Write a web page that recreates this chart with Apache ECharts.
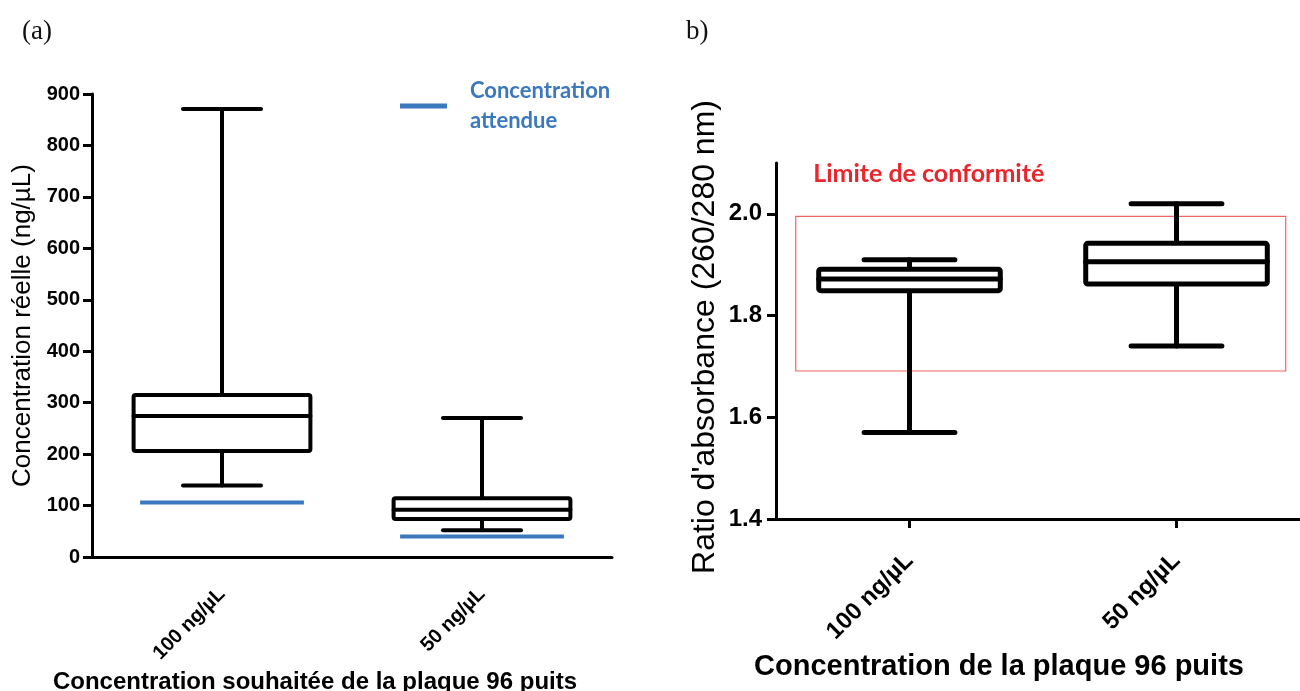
<!DOCTYPE html>
<html><head><meta charset="utf-8">
<script src="https://cdn.jsdelivr.net/npm/echarts@6/dist/echarts.min.js"></script>
<style>html,body{margin:0;padding:0;background:#fff}#c{width:1300px;height:691px}</style>
</head><body><div id="c"></div>
<script>
// ---------- data ----------
const categories = ['100 ng/µL', '50 ng/µL'];
// panel (a) : Concentration réelle (ng/µL)
const concMin = [139, 52];
const concQ1 = [206, 74];
const concMedian = [274, 92];
const concQ3 = [315, 114];
const concMax = [871, 270];
const concExpected = [106, 40];
// panel (b) : Ratio d'absorbance (260/280 nm)
const ratioMin = [1.57, 1.74];
const ratioQ1 = [1.849, 1.862];
const ratioMedian = [1.872, 1.906];
const ratioQ3 = [1.891, 1.942];
const ratioMax = [1.91, 2.02];
const ratioTicks = [1.4, 1.6, 1.8, 2.0];
const conformityLimits = [1.691, 1.995];

// ---------- style ----------
const BLUE = '#3b78be';
const RED = '#e8262d';
const FONT = 'Liberation Sans';

function boxRenderer(boxRatio, capRatio, lw) {
  return function (params, api) {
    const i = api.value(0);
    const pMin = api.coord([i, api.value(1)]);
    const pQ1 = api.coord([i, api.value(2)]);
    const pMed = api.coord([i, api.value(3)]);
    const pQ3 = api.coord([i, api.value(4)]);
    const pMax = api.coord([i, api.value(5)]);
    const band = api.size([1, 0])[0];
    const x = pMed[0];
    const hw = band * boxRatio / 2;
    const cw = band * capRatio / 2;
    const st = () => ({ stroke: '#000', lineWidth: lw, fill: null, lineJoin: 'round', lineCap: 'round' });
    return {
      type: 'group', children: [
        { type: 'line', shape: { x1: x, y1: pQ3[1], x2: x, y2: pMax[1] }, style: st() },
        { type: 'line', shape: { x1: x, y1: pQ1[1], x2: x, y2: pMin[1] }, style: st() },
        { type: 'line', shape: { x1: x - cw, y1: pMax[1], x2: x + cw, y2: pMax[1] }, style: st() },
        { type: 'line', shape: { x1: x - cw, y1: pMin[1], x2: x + cw, y2: pMin[1] }, style: st() },
        { type: 'rect', shape: { x: x - hw, y: pQ3[1], width: 2 * hw, height: pQ1[1] - pQ3[1], r: 2 },
          style: Object.assign(st(), { fill: '#fff' }) },
        { type: 'line', shape: { x1: x - hw, y1: pMed[1], x2: x + hw, y2: pMed[1] }, style: st() }
      ]
    };
  };
}

function expectedRenderer(widthRatio) {
  return function (params, api) {
    const p = api.coord([api.value(0), api.value(1)]);
    const band = api.size([1, 0])[0];
    const hw = band * widthRatio / 2;
    return { type: 'line', shape: { x1: p[0] - hw, y1: p[1], x2: p[0] + hw, y2: p[1] },
      style: { stroke: BLUE, lineWidth: 4 } };
  };
}

// panel (a) on a category axis (index i); panel (b) on a value axis where each category spans one unit (centre i + 0.5)
const boxDataA = categories.map((c, i) => [i, concMin[i], concQ1[i], concMedian[i], concQ3[i], concMax[i]]);
const expectedData = categories.map((c, i) => [i, concExpected[i]]);
const posB = categories.map((c, i) => i + 0.5);
const boxDataB = categories.map((c, i) => [posB[i], ratioMin[i], ratioQ1[i], ratioMedian[i], ratioQ3[i], ratioMax[i]]);

const chart = echarts.init(document.getElementById('c'), null, { renderer: 'canvas' });

const axisLineStyle = { color: '#000', width: 3 };

chart.setOption({
  animation: false,
  backgroundColor: '#fff',
  title: [
    { text: '(a)', left: 17, top: 13, textStyle: { fontFamily: 'Liberation Serif', fontWeight: 'normal', fontSize: 27, color: '#111' } },
    { text: 'b)', left: 681, top: 13, textStyle: { fontFamily: 'Liberation Serif', fontWeight: 'normal', fontSize: 27, color: '#111' } }
  ],
  legend: {
    data: ['Concentration attendue'],
    left: 400, top: 76, padding: 0,
    icon: 'rect', itemWidth: 47, itemHeight: 5,
    selectedMode: false,
    formatter: () => 'Concentration\nattendue',
    textStyle: { color: BLUE, fontFamily: 'Lato', fontWeight: 'bold', fontSize: 22, lineHeight: 30, padding: [0, 0, 0, 18] }
  },
  grid: [
    { left: 92, top: 94, width: 520, height: 463, containLabel: false, outerBoundsMode: 'none' },
    { left: 776, top: 163, right: 0, height: 356, containLabel: false, outerBoundsMode: 'none' }
  ],
  xAxis: [
    { type: 'category', gridIndex: 0, data: categories,
      axisLine: { lineStyle: axisLineStyle },
      axisTick: { alignWithLabel: true, length: 8, lineStyle: { color: '#000', width: 3 } },
      axisLabel: { rotate: 45, margin: 34, color: '#000', fontFamily: FONT, fontWeight: 'bold', fontSize: 20 },
      name: 'Concentration souhaitée de la plaque 96 puits', nameLocation: 'middle', nameGap: 113,
      nameTextStyle: { color: '#000', fontFamily: FONT, fontWeight: 'bold', fontSize: 24, padding: [0, 74, 0, 0] }
    },
    { type: 'value', gridIndex: 1, min: 0, max: 1.9625,
      splitLine: { show: false },
      axisLine: { show: true, onZero: false, lineStyle: axisLineStyle },
      axisTick: { show: true, customValues: posB, length: 9, lineStyle: { color: '#000', width: 3 } },
      axisLabel: { rotate: 45, margin: 38, customValues: posB,
        formatter: v => categories[Math.round(v - 0.5)] || '',
        color: '#000', fontFamily: FONT, fontWeight: 'bold', fontSize: 24 },
      name: 'Concentration de la plaque 96 puits', nameLocation: 'middle', nameGap: 133,
      nameTextStyle: { color: '#000', fontFamily: FONT, fontWeight: 'bold', fontSize: 29, padding: [0, 78, 0, 0] }
    }
  ],
  yAxis: [
    { type: 'value', gridIndex: 0, min: 0, max: 900, interval: 100,
      splitLine: { show: false },
      axisLine: { show: true, lineStyle: axisLineStyle },
      axisTick: { show: true, length: 9, lineStyle: { color: '#000', width: 3 } },
      axisLabel: { margin: 12, color: '#000', fontFamily: FONT, fontWeight: 'bold', fontSize: 20 },
      name: 'Concentration réelle (ng/µL)', nameLocation: 'middle', nameGap: 56,
      nameTextStyle: { color: '#000', fontFamily: FONT, fontSize: 26 }
    },
    { type: 'value', gridIndex: 1, min: 1.4, max: 2.1,
      splitLine: { show: false },
      axisLine: { show: true, onZero: false, lineStyle: axisLineStyle },
      axisTick: { show: true, length: 9, customValues: ratioTicks, lineStyle: { color: '#000', width: 3 } },
      axisLabel: { margin: 14, customValues: ratioTicks, formatter: v => Number(v).toFixed(1),
        color: '#000', fontFamily: FONT, fontWeight: 'bold', fontSize: 24 },
      name: "Ratio d'absorbance (260/280 nm)", nameLocation: 'middle', nameGap: 55,
      nameTextStyle: { color: '#000', fontFamily: FONT, fontSize: 32, padding: [0, 0, 0, 8] }
    }
  ],
  series: [
    { type: 'custom', name: 'Concentration réelle', xAxisIndex: 0, yAxisIndex: 0,
      renderItem: boxRenderer(0.68, 0.30, 4), data: boxDataA,
      encode: { x: 0, y: [1, 2, 3, 4, 5] }, z: 3 },
    { type: 'custom', name: 'Concentration attendue', xAxisIndex: 0, yAxisIndex: 0,
      itemStyle: { color: BLUE },
      renderItem: expectedRenderer(0.63), data: expectedData,
      encode: { x: 0, y: 1 }, z: 4 },
    { type: 'custom', name: 'Ratio', xAxisIndex: 1, yAxisIndex: 1,
      renderItem: boxRenderer(0.68, 0.34, 5), data: boxDataB,
      encode: { x: 0, y: [1, 2, 3, 4, 5] }, z: 3 },
    { type: 'line', name: 'Limite', xAxisIndex: 1, yAxisIndex: 1, data: [], silent: true,
      markArea: {
        silent: true,
        itemStyle: { color: 'rgba(0,0,0,0)', borderColor: '#f06464', borderWidth: 1.2 },
        label: { show: true, position: [18, -54], color: RED, fontFamily: 'Lato', fontWeight: 'bold', fontSize: 25 },
        data: [[
          { name: 'Limite de conformité', xAxis: 0.074, yAxis: conformityLimits[0] },
          { xAxis: 1.909, yAxis: conformityLimits[1] }
        ]]
      },
      z: 1 }
  ]
});
</script>
</body></html>
